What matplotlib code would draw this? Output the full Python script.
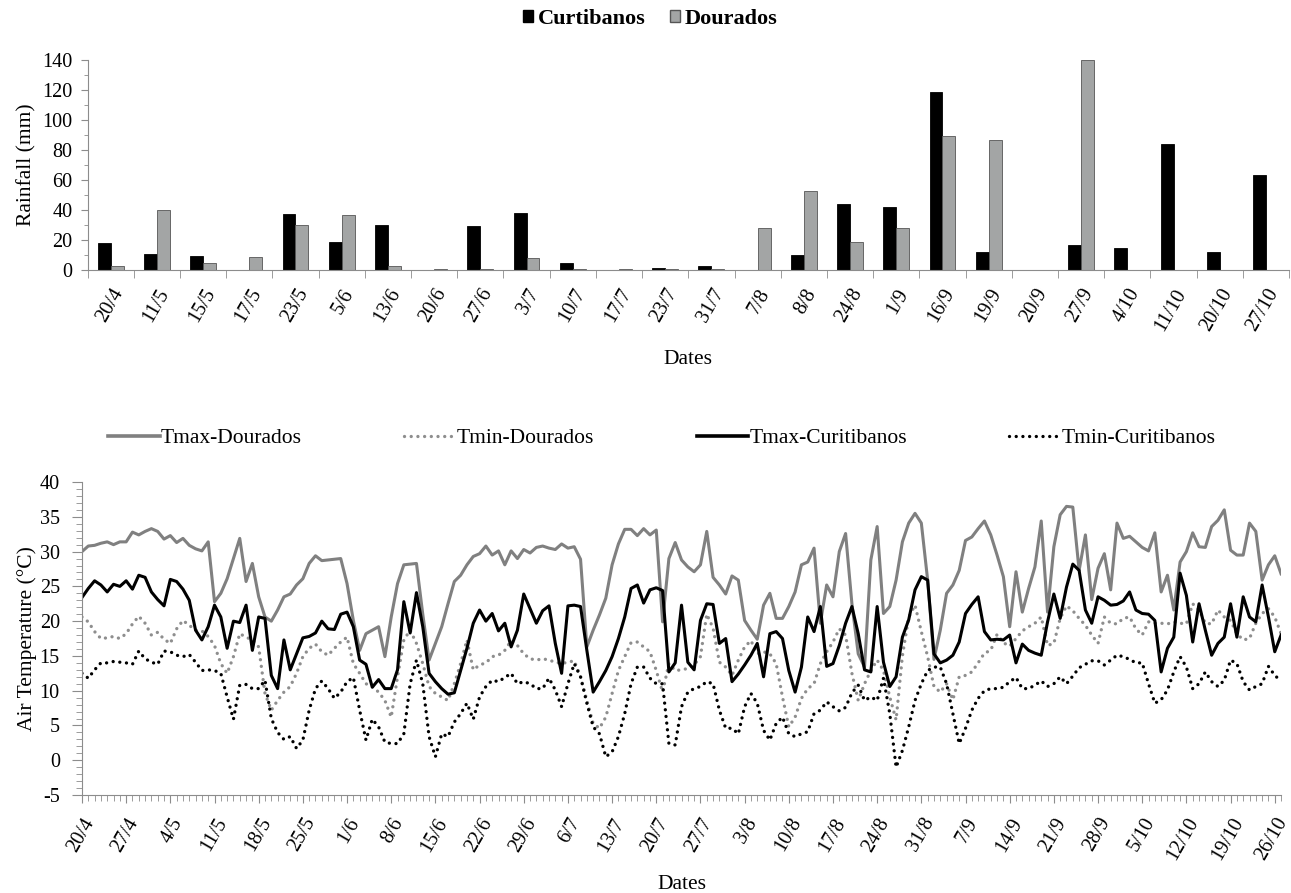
import matplotlib

matplotlib.use("Agg")
import matplotlib.pyplot as plt
import numpy as np
import pandas as pd
from matplotlib.lines import Line2D
from matplotlib.patches import Patch
from matplotlib.ticker import FixedLocator, MultipleLocator

plt.rcParams["font.family"] = ["Liberation Serif", "DejaVu Serif"]
plt.rcParams["axes.unicode_minus"] = False

# rainfall totals between sampling dates (mm)
RAIN_DATES = ["20/4", "11/5", "15/5", "17/5", "23/5", "5/6", "13/6", "20/6", "27/6",
              "3/7", "10/7", "17/7", "23/7", "31/7", "7/8", "8/8", "24/8", "1/9",
              "16/9", "19/9", "20/9", "27/9", "4/10", "11/10", "20/10", "27/10"]
RAIN_CURITIBANOS = [18.2, 10.7, 9.3, 0, 37.1, 18.9, 30.0, 0, 29.3, 37.8, 4.7, 0, 1.6,
                    2.7, 0, 10.2, 43.7, 41.9, 118.7, 12.0, 0, 16.6, 14.4, 84.3, 12.0, 63.2]
RAIN_DOURADOS = [3.0, 40.0, 4.4, 8.9, 29.8, 36.4, 2.9, 1.0, 1.0, 7.8, 1.0, 1.0, 0.5,
                 0.5, 27.7, 52.6, 18.9, 27.7, 89.6, 86.8, 0, 140.0, 0, 0, 0, 0]

# daily air temperature (degC), starting 20/4
START_DATE = "2013-04-20"
TMAX_DOURADOS = [
    30.0, 30.8, 30.9, 31.2, 31.4, 31.0, 31.4, 31.4, 32.8, 32.4, 32.9, 33.3, 32.9, 31.8,
    32.3, 31.3, 31.9, 30.9, 30.4, 30.1, 31.4, 22.8, 24.0, 26.1, 29.0, 31.9, 25.7, 28.3,
    23.5, 20.6, 20.0, 21.6, 23.5, 23.9, 25.2, 26.1, 28.3, 29.4, 28.7, 28.8, 28.9, 29.0,
    25.4, 20.1, 15.8, 18.2, 18.7, 19.2, 14.9, 20.6, 25.4, 28.1, 28.2, 28.3, 21.0, 14.4,
    16.8, 19.2, 22.5, 25.7, 26.6, 28.1, 29.3, 29.7, 30.8, 29.5, 30.1, 28.1, 30.1, 29.0,
    30.3, 29.8, 30.6, 30.8, 30.5, 30.3, 31.1, 30.5, 30.7, 28.9, 16.3, 18.7, 20.9, 23.3,
    28.1, 31.1, 33.2, 33.2, 32.3, 33.3, 32.4, 33.1, 19.9, 29.0, 31.3, 28.8, 27.8, 27.1,
    28.1, 32.9, 26.3, 25.2, 23.9, 26.5, 25.9, 20.1, 18.7, 17.4, 22.3, 24.0, 20.4, 20.4,
    22.1, 24.2, 28.1, 28.5, 30.5, 19.7, 25.2, 23.5, 30.0, 32.6, 22.5, 15.3, 13.4, 28.8,
    33.6, 21.1, 22.1, 25.9, 31.4, 34.1, 35.5, 34.1, 25.9, 14.5, 18.7, 24.0, 25.2, 27.3,
    31.6, 32.1, 33.3, 34.4, 32.4, 29.5, 26.4, 19.2, 27.1, 21.3, 24.7, 27.8, 34.4, 21.3,
    30.7, 35.3, 36.5, 36.4, 27.3, 32.4, 23.1, 27.6, 29.7, 24.5, 34.1, 31.9, 32.2, 31.4,
    30.6, 30.1, 32.7, 24.2, 26.6, 21.6, 28.5, 30.0, 32.7, 30.7, 30.6, 33.6, 34.5, 36.0,
    30.2, 29.5, 29.5, 34.1, 32.9, 25.9, 28.1, 29.4, 26.8]
TMIN_DOURADOS = [
    20.6, 19.9, 18.5, 17.5, 17.6, 17.8, 17.5, 18.2, 19.6, 20.7, 19.7, 18.0, 18.4, 17.4,
    16.8, 18.9, 20.1, 19.4, 18.7, 18.6, 17.8, 16.5, 13.9, 12.5, 14.9, 18.2, 17.7, 17.3,
    16.3, 9.6, 7.2, 8.6, 9.8, 10.6, 12.5, 14.9, 16.1, 16.7, 15.6, 15.1, 16.1, 17.0,
    17.7, 13.9, 12.5, 11.0, 10.6, 9.8, 8.6, 6.2, 12.0, 17.3, 18.7, 16.8, 13.9, 10.6,
    9.6, 9.1, 8.6, 11.0, 13.9, 17.3, 13.0, 13.7, 14.0, 14.9, 15.1, 15.8, 17.2, 16.5,
    15.3, 14.6, 14.4, 14.6, 14.4, 14.1, 13.9, 14.1, 14.3, 12.0, 8.6, 5.3, 4.6, 6.2,
    9.6, 12.9, 14.9, 16.9, 17.0, 16.3, 15.6, 12.9, 9.8, 13.9, 12.9, 13.0, 13.2, 13.7,
    14.9, 21.0, 19.0, 14.1, 13.4, 12.2, 14.4, 16.3, 17.2, 15.3, 15.6, 15.3, 13.9, 9.1,
    4.8, 6.2, 8.9, 10.3, 11.0, 13.9, 15.6, 17.0, 18.9, 18.0, 12.5, 8.6, 11.0, 12.9,
    14.4, 12.9, 9.1, 5.8, 15.0, 20.6, 22.3, 18.5, 14.9, 10.6, 9.8, 11.0, 8.7, 12.0,
    12.2, 12.7, 14.0, 15.4, 15.8, 18.1, 16.9, 16.4, 17.5, 18.6, 19.2, 19.7, 20.6, 16.5,
    16.8, 20.4, 22.2, 21.5, 20.4, 19.4, 18.0, 16.8, 20.6, 19.7, 19.6, 20.4, 20.6, 18.9,
    18.0, 19.9, 19.7, 19.7, 19.6, 19.9, 19.7, 19.6, 22.5, 21.6, 19.7, 19.6, 21.6, 20.6,
    20.1, 18.2, 17.3, 17.5, 19.7, 21.1, 21.8, 20.6, 18.2]
TMAX_CURITIBANOS = [
    23.4, 24.7, 25.8, 25.2, 24.2, 25.3, 25.0, 25.8, 24.6, 26.6, 26.3, 24.2, 23.1, 22.2,
    26.0, 25.7, 24.6, 23.0, 18.7, 17.3, 19.2, 22.3, 20.6, 16.1, 20.0, 19.8, 22.3, 15.8,
    20.6, 20.4, 12.2, 10.3, 17.3, 13.0, 15.3, 17.6, 17.8, 18.3, 20.0, 18.9, 18.8, 21.0,
    21.3, 19.2, 14.4, 13.8, 10.5, 11.6, 10.3, 10.3, 13.0, 22.8, 18.3, 24.1, 19.2, 12.5,
    11.3, 10.3, 9.5, 9.7, 12.9, 16.1, 19.7, 21.6, 20.0, 21.1, 18.6, 19.7, 16.3, 18.7,
    23.9, 21.8, 19.7, 21.5, 22.2, 16.8, 12.5, 22.2, 22.3, 22.1, 15.8, 9.8, 11.3, 12.9,
    14.9, 17.5, 20.6, 24.7, 25.2, 22.6, 24.5, 24.8, 24.4, 12.7, 14.0, 22.3, 14.1, 13.0,
    20.1, 22.5, 22.4, 16.8, 17.5, 11.3, 12.4, 13.7, 15.1, 16.8, 12.0, 18.2, 18.5, 17.5,
    12.9, 9.8, 13.4, 20.6, 18.5, 22.1, 13.5, 13.9, 16.5, 19.7, 22.1, 18.2, 13.0, 12.7,
    22.1, 14.1, 10.6, 12.0, 17.7, 20.2, 24.5, 26.4, 25.9, 15.3, 14.0, 14.4, 15.1, 17.0,
    21.1, 22.4, 23.5, 18.5, 17.3, 17.4, 17.3, 18.0, 14.0, 16.7, 15.8, 15.4, 15.1, 19.9,
    23.9, 20.4, 24.9, 28.2, 27.3, 21.6, 19.7, 23.5, 23.0, 22.3, 22.4, 22.9, 24.2, 21.6,
    21.1, 21.0, 20.1, 12.7, 16.1, 17.7, 26.9, 23.7, 17.0, 22.5, 18.7, 15.1, 16.8, 17.7,
    22.5, 17.7, 23.5, 20.6, 19.9, 25.2, 20.6, 15.6, 18.0]
TMIN_CURITIBANOS = [
    12.5, 11.8, 13.0, 14.0, 14.0, 14.2, 14.1, 14.0, 13.8, 15.7, 14.6, 14.1, 13.8, 15.7,
    15.6, 15.1, 14.9, 15.2, 14.1, 12.9, 13.0, 12.9, 12.5, 9.1, 5.9, 10.8, 10.9, 10.3,
    10.3, 11.5, 6.0, 4.0, 3.0, 3.4, 1.7, 2.9, 7.2, 10.3, 11.4, 10.3, 8.9, 9.8,
    11.3, 11.9, 7.2, 2.9, 5.9, 4.8, 2.6, 2.4, 2.4, 3.8, 11.0, 14.4, 11.0, 3.4,
    0.5, 3.8, 3.4, 5.5, 6.7, 8.2, 5.9, 9.1, 10.6, 11.5, 11.3, 11.9, 12.5, 11.0,
    11.3, 11.0, 10.3, 10.3, 11.8, 10.1, 7.7, 11.0, 13.9, 12.0, 8.2, 4.8, 3.8, 0.5,
    1.2, 3.4, 6.7, 11.0, 13.4, 13.4, 11.8, 11.0, 11.0, 2.4, 2.2, 7.7, 9.8, 10.3,
    10.6, 11.3, 11.0, 7.2, 4.6, 4.6, 3.8, 7.7, 9.6, 8.2, 4.3, 2.9, 5.3, 6.2,
    3.8, 3.4, 3.8, 4.1, 6.7, 7.2, 8.4, 7.7, 7.1, 7.6, 9.7, 10.8, 8.6, 9.1,
    8.6, 11.8, 6.7, -1.0, 1.4, 4.8, 8.6, 11.0, 12.9, 13.4, 13.4, 11.0, 6.7, 2.4,
    4.6, 7.2, 8.9, 10.0, 10.3, 10.3, 10.5, 11.3, 11.9, 10.3, 10.3, 10.8, 11.4, 10.6,
    11.0, 12.0, 11.0, 12.1, 13.3, 13.8, 14.3, 14.3, 13.7, 14.4, 15.1, 14.9, 14.5, 14.0,
    14.0, 11.0, 8.2, 8.7, 10.1, 12.7, 14.9, 13.4, 10.3, 11.0, 12.7, 11.3, 10.6, 11.5,
    14.4, 13.9, 11.3, 10.1, 10.6, 11.0, 13.5, 12.2, 11.4]

AXIS_GRAY = "#8c8c8c"
TICK_SIZE = 14.5
TITLE_SIZE = 15.5

fig = plt.figure(figsize=(12.91, 8.93), dpi=100)

# ---- rainfall bars ----
ax1 = fig.add_axes([0.0678, 0.6976, 0.9307, 0.2352])
pos = np.arange(len(RAIN_DATES))
bw = 0.28
ax1.bar(pos - bw / 2, RAIN_CURITIBANOS, bw, color="black", edgecolor="black", lw=0.6)
ax1.bar(pos + bw / 2, RAIN_DOURADOS, bw, color="#a3a5a5", edgecolor="#555555", lw=0.6)
ax1.set_xlim(-0.5, len(RAIN_DATES) - 0.5)
ax1.set_ylim(0, 140)
ax1.yaxis.set_major_locator(MultipleLocator(20))
ax1.yaxis.set_minor_locator(MultipleLocator(10))
ax1.set_xticks(pos)
ax1.set_xticklabels(RAIN_DATES, rotation=60, ha="right", rotation_mode="anchor")
ax1.xaxis.set_minor_locator(FixedLocator(np.arange(-0.5, len(RAIN_DATES), 1.0)))
ax1.tick_params(axis="x", which="major", length=0, pad=11, labelsize=TICK_SIZE)
ax1.tick_params(axis="x", which="minor", length=6, color=AXIS_GRAY)
ax1.tick_params(axis="y", which="both", length=5, pad=6, color=AXIS_GRAY, labelsize=TICK_SIZE)
ax1.tick_params(axis="y", which="minor", length=3)
for s in ("top", "right"):
    ax1.spines[s].set_visible(False)
for s in ("left", "bottom"):
    ax1.spines[s].set_color(AXIS_GRAY)
ax1.set_ylabel("Rainfall (mm)", fontsize=TITLE_SIZE, labelpad=4)
ax1.set_xlabel("Dates", fontsize=TITLE_SIZE, labelpad=11)

fig.legend(handles=[Patch(facecolor="black", edgecolor="black", label="Curtibanos"),
                    Patch(facecolor="#a3a5a5", edgecolor="#555555", label="Dourados")],
           loc="center", bbox_to_anchor=(0.5035, 0.979), ncol=2, frameon=False,
           handlelength=0.45, handleheight=0.45, handletextpad=0.2, columnspacing=1.1,
           prop={"weight": "bold", "size": 16})

# ---- daily temperatures ----
days = pd.date_range(START_DATE, periods=len(TMAX_DOURADOS), freq="D")
x = np.arange(len(days))
ax2 = fig.add_axes([0.0635, 0.1097, 0.9288, 0.3505])
dot = (0, (0.01, 2.0))
ax2.plot(x, TMAX_DOURADOS, color="#808080", lw=2.2, label="Tmax-Dourados")
ax2.plot(x, TMIN_DOURADOS, color="#8e8e8e", lw=2.4, ls=dot, dash_capstyle="round",
         label="Tmin-Dourados")
ax2.plot(x, TMAX_CURITIBANOS, color="black", lw=2.2, label="Tmax-Curitibanos")
ax2.plot(x, TMIN_CURITIBANOS, color="black", lw=2.4, ls=dot, dash_capstyle="round",
         label="Tmin-Curitibanos")
ax2.set_xlim(0, len(x) - 1)
ax2.set_ylim(-5, 40)
ax2.yaxis.set_major_locator(MultipleLocator(5))
ax2.yaxis.set_minor_locator(MultipleLocator(1))
week = x[::7]
ax2.set_xticks(week)
ax2.set_xticklabels([f"{d.day}/{d.month}" for d in days[::7]],
                    rotation=60, ha="right", rotation_mode="anchor")
ax2.xaxis.set_minor_locator(MultipleLocator(1))
ax2.tick_params(axis="x", which="major", length=6, pad=8, color=AXIS_GRAY,
                labelsize=TICK_SIZE)
ax2.tick_params(axis="x", which="minor", length=4, color=AXIS_GRAY)
ax2.tick_params(axis="y", which="major", length=7, pad=9, color=AXIS_GRAY,
                labelsize=TICK_SIZE)
ax2.tick_params(axis="y", which="minor", length=4, color=AXIS_GRAY)
for s in ("top", "right"):
    ax2.spines[s].set_visible(False)
for s in ("left", "bottom"):
    ax2.spines[s].set_color(AXIS_GRAY)
ax2.set_ylabel("Air Temperature (\u00b0C)", fontsize=TITLE_SIZE, labelpad=2)
ax2.set_xlabel("Dates", fontsize=TITLE_SIZE, labelpad=8)

handles = [Line2D([], [], color="#808080", lw=2.6),
           Line2D([], [], color="#8e8e8e", lw=2.4, ls=dot, dash_capstyle="round"),
           Line2D([], [], color="black", lw=2.6),
           Line2D([], [], color="black", lw=2.4, ls=dot, dash_capstyle="round")]
fig.legend(handles, ["Tmax-Dourados", "Tmin-Dourados", "Tmax-Curitibanos", "Tmin-Curitibanos"],
           loc="center", bbox_to_anchor=(0.5128, 0.5095), ncol=4, frameon=False,
           handlelength=2.4, handletextpad=0.05, columnspacing=4.75,
           prop={"size": 15.5})

fig.savefig("out.png", dpi=100)
